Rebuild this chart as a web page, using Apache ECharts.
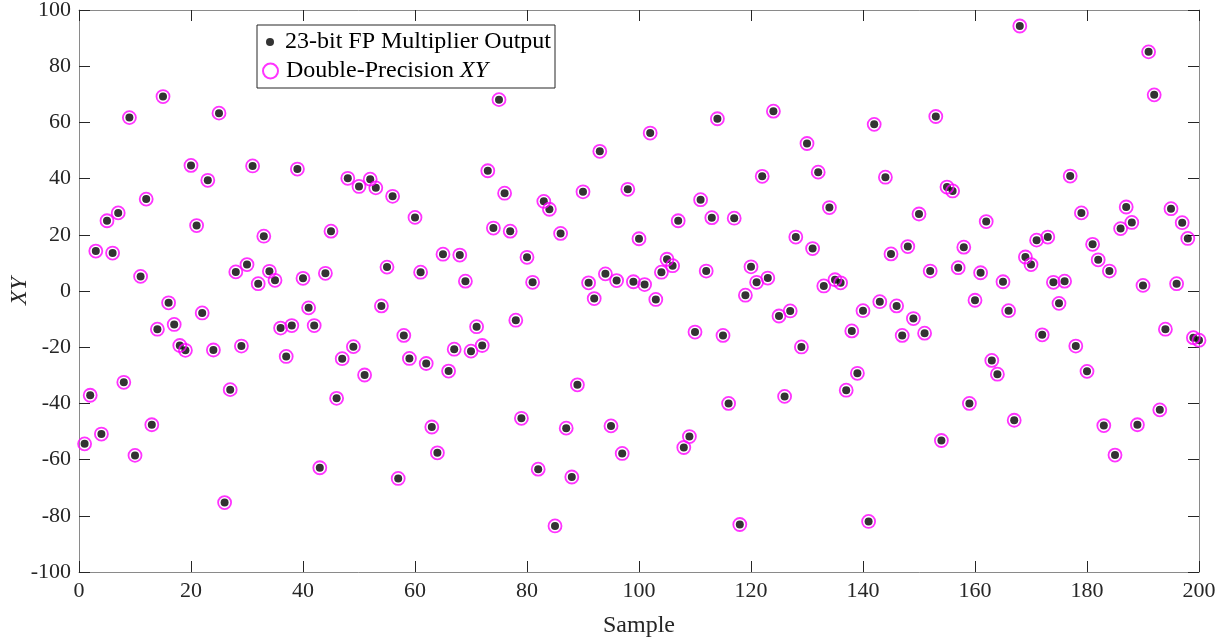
<!DOCTYPE html>
<html>
<head>
<meta charset="utf-8">
<script src="https://cdn.jsdelivr.net/npm/echarts@6/dist/echarts.min.js"></script>
<style>
  html, body { margin: 0; padding: 0; background: #fff; }
  #chart { width: 1226px; height: 638px; }
</style>
</head>
<body>
<div id="chart"></div>
<script>
// values, sample index 1..200
const multiplierOut = [
  -54.4, -37.1, 14.2, -50.9, 25.0, 13.5, 27.8, -32.5, 61.7, -58.5,
  5.2, 32.7, -47.6, -13.6, 69.2, -4.2, -11.9, -19.4, -21.1, 44.7,
  23.3, -7.8, 39.4, -21.0, 63.3, -75.3, -35.1, 6.8, -19.6, 9.4,
  44.5, 2.6, 19.5, 7.0, 3.8, -13.2, -23.3, -12.3, 43.4, 4.5,
  -6.0, -12.3, -62.9, 6.3, 21.3, -38.2, -24.1, 40.1, -19.8, 37.2,
  -29.9, 39.8, 36.7, -5.3, 8.5, 33.7, -66.7, -15.8, -24.0, 26.2,
  6.7, -25.8, -48.4, -57.6, 13.1, -28.5, -20.7, 12.8, 3.5, -21.4,
  -12.7, -19.4, 42.8, 22.4, 68.1, 34.8, 21.3, -10.4, -45.3, 12.0,
  3.1, -63.4, 31.9, 29.1, -83.6, 20.5, -48.8, -66.2, -33.4, 35.3,
  2.9, -2.7, 49.7, 6.1, -48.0, 3.7, -57.8, 36.2, 3.3, 18.6,
  2.3, 56.2, -3.0, 6.7, 11.3, 9.0, 25.0, -55.7, -51.8, -14.6,
  32.5, 7.1, 26.1, 61.3, -15.8, -40.0, 25.9, -83.1, -1.5, 8.6,
  3.1, 40.8, 4.6, 64.0, -8.9, -37.5, -7.1, 19.2, -19.9, 52.5,
  15.1, 42.3, 1.8, 29.7, 4.0, 2.9, -35.3, -14.2, -29.3, -7.0,
  -82.0, 59.3, -3.8, 40.5, 13.2, -5.3, -15.8, 15.8, -9.8, 27.4,
  -15.0, 7.1, 62.1, -53.2, 37.0, 35.6, 8.3, 15.6, -40.0, -3.3,
  6.5, 24.7, -24.7, -29.6, 3.3, -7.0, -46.0, 94.3, 12.1, 9.4,
  18.1, -15.6, 19.2, 3.1, -4.4, 3.5, 40.9, -19.6, 27.8, -28.6,
  16.6, 11.1, -47.9, 7.1, -58.4, 22.2, 29.9, 24.4, -47.6, 2.0,
  85.1, 69.8, -42.3, -13.6, 29.3, 2.6, 24.3, 18.7, -16.6, -17.5
];
// the double-precision reference coincides with the multiplier output at this scale
const doubleXY = multiplierOut.slice();

const xTicks = { min: 0, max: 200, step: 20 };
const yTicks = { min: -100, max: 100, step: 20 };

const dotName = '23-bit FP Multiplier Output';
const ringName = 'Double-Precision XY';

const font = 'Liberation Serif, Times New Roman, serif';
const ink = '#262626';
const frame = '#8a8a8a';

const chart = echarts.init(document.getElementById('chart'));

const toPoints = arr => arr.map((v, i) => [i + 1, v]);

const baseAxis = {
  axisLine: { show: true, onZero: false, lineStyle: { color: frame, width: 1 } },
  axisTick: { show: true, inside: true, length: 11, lineStyle: { color: ink } },
  splitLine: { show: false },
};

chart.setOption({
  animation: false,
  backgroundColor: '#fff',
  grid: { left: 79, right: 27, top: 10, bottom: 66, outerBoundsMode: 'none' },
  xAxis: [
    Object.assign({}, baseAxis, {
      type: 'value', position: 'bottom',
      min: xTicks.min, max: xTicks.max, interval: xTicks.step,
      name: 'Sample', nameLocation: 'middle', nameGap: 42, nameMoveOverlap: false,
      nameTextStyle: { fontFamily: font, fontSize: 24, color: ink },
      axisLabel: { fontFamily: font, fontSize: 22, color: ink, margin: 8 },
    }),
    Object.assign({}, baseAxis, {
      type: 'value', position: 'top',
      min: xTicks.min, max: xTicks.max, interval: xTicks.step,
      axisLabel: { show: false },
    }),
  ],
  yAxis: [
    Object.assign({}, baseAxis, {
      type: 'value', position: 'left',
      min: yTicks.min, max: yTicks.max, interval: yTicks.step,
      name: 'XY', nameLocation: 'middle', nameGap: 47, nameMoveOverlap: false,
      nameTextStyle: { fontFamily: font, fontSize: 24, color: ink, fontStyle: 'italic' },
      axisLabel: { fontFamily: font, fontSize: 22, color: ink, margin: 8 },
    }),
    Object.assign({}, baseAxis, {
      type: 'value', position: 'right',
      min: yTicks.min, max: yTicks.max, interval: yTicks.step,
      axisLabel: { show: false },
    }),
  ],
  legend: [
    {
      data: [dotName],
      left: 261, top: 25,
      itemWidth: 8, itemHeight: 8, itemGap: 0,
      textStyle: { fontFamily: font, fontSize: 24, color: '#000', padding: [0, 0, 0, 6] },
    },
    {
      data: [ringName],
      left: 257, top: 54,
      itemWidth: 15, itemHeight: 15, itemGap: 0,
      formatter: () => 'Double-Precision {i|XY}',
      textStyle: {
        fontFamily: font, fontSize: 24, color: '#000', padding: [0, 0, 0, 3],
        rich: { i: { fontFamily: font, fontSize: 24, fontStyle: 'italic', color: '#000' } },
      },
    },
  ],
  graphic: [{
    type: 'rect',
    shape: { x: 257, y: 25, width: 298, height: 63 },
    style: { fill: '#fff', stroke: ink, lineWidth: 1 },
    z: 0,
  }],
  series: [
    {
      name: dotName,
      type: 'scatter',
      data: toPoints(multiplierOut),
      symbol: 'circle',
      symbolSize: 8,
      itemStyle: { color: '#000' },
      z: 3,
    },
    {
      name: ringName,
      type: 'scatter',
      data: toPoints(doubleXY),
      symbol: 'circle',
      symbolSize: 13,
      itemStyle: { color: 'rgba(0,0,0,0)', borderColor: '#ff00ff', borderWidth: 1.8 },
      z: 4,
    },
  ],
});
</script>
</body>
</html>
